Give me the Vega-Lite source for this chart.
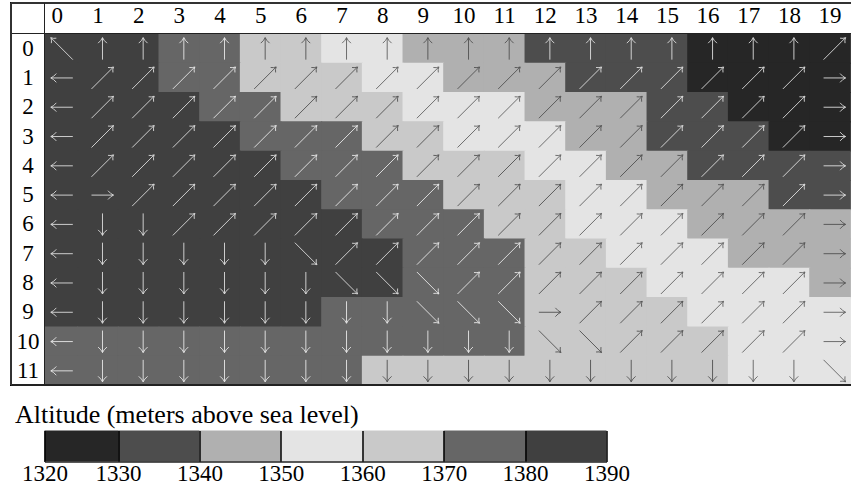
{"$schema":"https://vega.github.io/schema/vega-lite/v6.json","padding":{"left":9.5,"top":2.5,"right":0,"bottom":0},"background":"white","spacing":16,"config":{"view":{"stroke":null},"font":"Liberation Serif"},
"datasets":{"cells":[
{"col":0,"row":0,"alt":1380,"dir":"NW"},{"col":1,"row":0,"alt":1380,"dir":"N"},{"col":2,"row":0,"alt":1380,"dir":"N"},{"col":3,"row":0,"alt":1370,"dir":"N"},{"col":4,"row":0,"alt":1370,"dir":"N"},{"col":5,"row":0,"alt":1360,"dir":"N"},{"col":6,"row":0,"alt":1360,"dir":"N"},{"col":7,"row":0,"alt":1350,"dir":"N"},{"col":8,"row":0,"alt":1350,"dir":"N"},{"col":9,"row":0,"alt":1340,"dir":"N"},{"col":10,"row":0,"alt":1340,"dir":"N"},{"col":11,"row":0,"alt":1340,"dir":"N"},{"col":12,"row":0,"alt":1330,"dir":"N"},{"col":13,"row":0,"alt":1330,"dir":"N"},{"col":14,"row":0,"alt":1330,"dir":"N"},{"col":15,"row":0,"alt":1330,"dir":"N"},{"col":16,"row":0,"alt":1320,"dir":"N"},{"col":17,"row":0,"alt":1320,"dir":"N"},{"col":18,"row":0,"alt":1320,"dir":"N"},{"col":19,"row":0,"alt":1320,"dir":"NE"},
{"col":0,"row":1,"alt":1380,"dir":"W"},{"col":1,"row":1,"alt":1380,"dir":"NE"},{"col":2,"row":1,"alt":1380,"dir":"NE"},{"col":3,"row":1,"alt":1370,"dir":"NE"},{"col":4,"row":1,"alt":1370,"dir":"NE"},{"col":5,"row":1,"alt":1360,"dir":"NE"},{"col":6,"row":1,"alt":1360,"dir":"NE"},{"col":7,"row":1,"alt":1360,"dir":"NE"},{"col":8,"row":1,"alt":1350,"dir":"NE"},{"col":9,"row":1,"alt":1350,"dir":"NE"},{"col":10,"row":1,"alt":1340,"dir":"NE"},{"col":11,"row":1,"alt":1340,"dir":"NE"},{"col":12,"row":1,"alt":1340,"dir":"NE"},{"col":13,"row":1,"alt":1330,"dir":"NE"},{"col":14,"row":1,"alt":1330,"dir":"NE"},{"col":15,"row":1,"alt":1330,"dir":"NE"},{"col":16,"row":1,"alt":1320,"dir":"NE"},{"col":17,"row":1,"alt":1320,"dir":"NE"},{"col":18,"row":1,"alt":1320,"dir":"NE"},{"col":19,"row":1,"alt":1320,"dir":"E"},
{"col":0,"row":2,"alt":1380,"dir":"W"},{"col":1,"row":2,"alt":1380,"dir":"NE"},{"col":2,"row":2,"alt":1380,"dir":"NE"},{"col":3,"row":2,"alt":1380,"dir":"NE"},{"col":4,"row":2,"alt":1370,"dir":"NE"},{"col":5,"row":2,"alt":1370,"dir":"NE"},{"col":6,"row":2,"alt":1360,"dir":"NE"},{"col":7,"row":2,"alt":1360,"dir":"NE"},{"col":8,"row":2,"alt":1360,"dir":"NE"},{"col":9,"row":2,"alt":1350,"dir":"NE"},{"col":10,"row":2,"alt":1350,"dir":"NE"},{"col":11,"row":2,"alt":1350,"dir":"NE"},{"col":12,"row":2,"alt":1340,"dir":"NE"},{"col":13,"row":2,"alt":1340,"dir":"NE"},{"col":14,"row":2,"alt":1340,"dir":"NE"},{"col":15,"row":2,"alt":1330,"dir":"NE"},{"col":16,"row":2,"alt":1330,"dir":"NE"},{"col":17,"row":2,"alt":1320,"dir":"NE"},{"col":18,"row":2,"alt":1320,"dir":"NE"},{"col":19,"row":2,"alt":1320,"dir":"E"},
{"col":0,"row":3,"alt":1380,"dir":"W"},{"col":1,"row":3,"alt":1380,"dir":"NE"},{"col":2,"row":3,"alt":1380,"dir":"NE"},{"col":3,"row":3,"alt":1380,"dir":"NE"},{"col":4,"row":3,"alt":1380,"dir":"NE"},{"col":5,"row":3,"alt":1370,"dir":"NE"},{"col":6,"row":3,"alt":1370,"dir":"NE"},{"col":7,"row":3,"alt":1370,"dir":"NE"},{"col":8,"row":3,"alt":1360,"dir":"NE"},{"col":9,"row":3,"alt":1360,"dir":"NE"},{"col":10,"row":3,"alt":1350,"dir":"NE"},{"col":11,"row":3,"alt":1350,"dir":"NE"},{"col":12,"row":3,"alt":1350,"dir":"NE"},{"col":13,"row":3,"alt":1340,"dir":"NE"},{"col":14,"row":3,"alt":1340,"dir":"NE"},{"col":15,"row":3,"alt":1330,"dir":"NE"},{"col":16,"row":3,"alt":1330,"dir":"NE"},{"col":17,"row":3,"alt":1330,"dir":"NE"},{"col":18,"row":3,"alt":1320,"dir":"NE"},{"col":19,"row":3,"alt":1320,"dir":"E"},
{"col":0,"row":4,"alt":1380,"dir":"W"},{"col":1,"row":4,"alt":1380,"dir":"NE"},{"col":2,"row":4,"alt":1380,"dir":"NE"},{"col":3,"row":4,"alt":1380,"dir":"NE"},{"col":4,"row":4,"alt":1380,"dir":"NE"},{"col":5,"row":4,"alt":1380,"dir":"NE"},{"col":6,"row":4,"alt":1370,"dir":"NE"},{"col":7,"row":4,"alt":1370,"dir":"NE"},{"col":8,"row":4,"alt":1370,"dir":"NE"},{"col":9,"row":4,"alt":1360,"dir":"NE"},{"col":10,"row":4,"alt":1360,"dir":"NE"},{"col":11,"row":4,"alt":1360,"dir":"NE"},{"col":12,"row":4,"alt":1350,"dir":"NE"},{"col":13,"row":4,"alt":1350,"dir":"NE"},{"col":14,"row":4,"alt":1340,"dir":"NE"},{"col":15,"row":4,"alt":1340,"dir":"NE"},{"col":16,"row":4,"alt":1330,"dir":"NE"},{"col":17,"row":4,"alt":1330,"dir":"NE"},{"col":18,"row":4,"alt":1330,"dir":"NE"},{"col":19,"row":4,"alt":1330,"dir":"E"},
{"col":0,"row":5,"alt":1380,"dir":"W"},{"col":1,"row":5,"alt":1380,"dir":"E"},{"col":2,"row":5,"alt":1380,"dir":"NE"},{"col":3,"row":5,"alt":1380,"dir":"NE"},{"col":4,"row":5,"alt":1380,"dir":"NE"},{"col":5,"row":5,"alt":1380,"dir":"NE"},{"col":6,"row":5,"alt":1380,"dir":"NE"},{"col":7,"row":5,"alt":1370,"dir":"NE"},{"col":8,"row":5,"alt":1370,"dir":"NE"},{"col":9,"row":5,"alt":1370,"dir":"NE"},{"col":10,"row":5,"alt":1360,"dir":"NE"},{"col":11,"row":5,"alt":1360,"dir":"NE"},{"col":12,"row":5,"alt":1360,"dir":"NE"},{"col":13,"row":5,"alt":1350,"dir":"NE"},{"col":14,"row":5,"alt":1350,"dir":"NE"},{"col":15,"row":5,"alt":1340,"dir":"NE"},{"col":16,"row":5,"alt":1340,"dir":"NE"},{"col":17,"row":5,"alt":1340,"dir":"NE"},{"col":18,"row":5,"alt":1330,"dir":"NE"},{"col":19,"row":5,"alt":1330,"dir":"E"},
{"col":0,"row":6,"alt":1380,"dir":"W"},{"col":1,"row":6,"alt":1380,"dir":"S"},{"col":2,"row":6,"alt":1380,"dir":"S"},{"col":3,"row":6,"alt":1380,"dir":"NE"},{"col":4,"row":6,"alt":1380,"dir":"NE"},{"col":5,"row":6,"alt":1380,"dir":"NE"},{"col":6,"row":6,"alt":1380,"dir":"NE"},{"col":7,"row":6,"alt":1380,"dir":"NE"},{"col":8,"row":6,"alt":1370,"dir":"NE"},{"col":9,"row":6,"alt":1370,"dir":"NE"},{"col":10,"row":6,"alt":1370,"dir":"NE"},{"col":11,"row":6,"alt":1360,"dir":"NE"},{"col":12,"row":6,"alt":1360,"dir":"NE"},{"col":13,"row":6,"alt":1350,"dir":"NE"},{"col":14,"row":6,"alt":1350,"dir":"NE"},{"col":15,"row":6,"alt":1350,"dir":"NE"},{"col":16,"row":6,"alt":1340,"dir":"NE"},{"col":17,"row":6,"alt":1340,"dir":"NE"},{"col":18,"row":6,"alt":1340,"dir":"NE"},{"col":19,"row":6,"alt":1340,"dir":"E"},
{"col":0,"row":7,"alt":1380,"dir":"W"},{"col":1,"row":7,"alt":1380,"dir":"S"},{"col":2,"row":7,"alt":1380,"dir":"S"},{"col":3,"row":7,"alt":1380,"dir":"S"},{"col":4,"row":7,"alt":1380,"dir":"S"},{"col":5,"row":7,"alt":1380,"dir":"S"},{"col":6,"row":7,"alt":1380,"dir":"SE"},{"col":7,"row":7,"alt":1380,"dir":"NE"},{"col":8,"row":7,"alt":1380,"dir":"NE"},{"col":9,"row":7,"alt":1370,"dir":"NE"},{"col":10,"row":7,"alt":1370,"dir":"NE"},{"col":11,"row":7,"alt":1370,"dir":"NE"},{"col":12,"row":7,"alt":1360,"dir":"NE"},{"col":13,"row":7,"alt":1360,"dir":"NE"},{"col":14,"row":7,"alt":1350,"dir":"NE"},{"col":15,"row":7,"alt":1350,"dir":"NE"},{"col":16,"row":7,"alt":1350,"dir":"NE"},{"col":17,"row":7,"alt":1340,"dir":"NE"},{"col":18,"row":7,"alt":1340,"dir":"NE"},{"col":19,"row":7,"alt":1340,"dir":"E"},
{"col":0,"row":8,"alt":1380,"dir":"W"},{"col":1,"row":8,"alt":1380,"dir":"S"},{"col":2,"row":8,"alt":1380,"dir":"S"},{"col":3,"row":8,"alt":1380,"dir":"S"},{"col":4,"row":8,"alt":1380,"dir":"S"},{"col":5,"row":8,"alt":1380,"dir":"S"},{"col":6,"row":8,"alt":1380,"dir":"S"},{"col":7,"row":8,"alt":1380,"dir":"SE"},{"col":8,"row":8,"alt":1380,"dir":"SE"},{"col":9,"row":8,"alt":1370,"dir":"SE"},{"col":10,"row":8,"alt":1370,"dir":"NE"},{"col":11,"row":8,"alt":1370,"dir":"NE"},{"col":12,"row":8,"alt":1360,"dir":"NE"},{"col":13,"row":8,"alt":1360,"dir":"NE"},{"col":14,"row":8,"alt":1360,"dir":"NE"},{"col":15,"row":8,"alt":1350,"dir":"NE"},{"col":16,"row":8,"alt":1350,"dir":"NE"},{"col":17,"row":8,"alt":1350,"dir":"NE"},{"col":18,"row":8,"alt":1350,"dir":"NE"},{"col":19,"row":8,"alt":1340,"dir":"E"},
{"col":0,"row":9,"alt":1380,"dir":"W"},{"col":1,"row":9,"alt":1380,"dir":"S"},{"col":2,"row":9,"alt":1380,"dir":"S"},{"col":3,"row":9,"alt":1380,"dir":"S"},{"col":4,"row":9,"alt":1380,"dir":"S"},{"col":5,"row":9,"alt":1380,"dir":"S"},{"col":6,"row":9,"alt":1380,"dir":"S"},{"col":7,"row":9,"alt":1370,"dir":"S"},{"col":8,"row":9,"alt":1370,"dir":"S"},{"col":9,"row":9,"alt":1370,"dir":"SE"},{"col":10,"row":9,"alt":1370,"dir":"SE"},{"col":11,"row":9,"alt":1370,"dir":"SE"},{"col":12,"row":9,"alt":1360,"dir":"E"},{"col":13,"row":9,"alt":1360,"dir":"NE"},{"col":14,"row":9,"alt":1360,"dir":"NE"},{"col":15,"row":9,"alt":1360,"dir":"NE"},{"col":16,"row":9,"alt":1350,"dir":"NE"},{"col":17,"row":9,"alt":1350,"dir":"NE"},{"col":18,"row":9,"alt":1350,"dir":"NE"},{"col":19,"row":9,"alt":1350,"dir":"E"},
{"col":0,"row":10,"alt":1370,"dir":"W"},{"col":1,"row":10,"alt":1370,"dir":"S"},{"col":2,"row":10,"alt":1370,"dir":"S"},{"col":3,"row":10,"alt":1370,"dir":"S"},{"col":4,"row":10,"alt":1370,"dir":"S"},{"col":5,"row":10,"alt":1370,"dir":"S"},{"col":6,"row":10,"alt":1370,"dir":"S"},{"col":7,"row":10,"alt":1370,"dir":"S"},{"col":8,"row":10,"alt":1370,"dir":"S"},{"col":9,"row":10,"alt":1370,"dir":"S"},{"col":10,"row":10,"alt":1370,"dir":"S"},{"col":11,"row":10,"alt":1370,"dir":"S"},{"col":12,"row":10,"alt":1360,"dir":"SE"},{"col":13,"row":10,"alt":1360,"dir":"SE"},{"col":14,"row":10,"alt":1360,"dir":"NE"},{"col":15,"row":10,"alt":1360,"dir":"NE"},{"col":16,"row":10,"alt":1360,"dir":"NE"},{"col":17,"row":10,"alt":1350,"dir":"NE"},{"col":18,"row":10,"alt":1350,"dir":"NE"},{"col":19,"row":10,"alt":1350,"dir":"E"},
{"col":0,"row":11,"alt":1370,"dir":"W"},{"col":1,"row":11,"alt":1370,"dir":"S"},{"col":2,"row":11,"alt":1370,"dir":"S"},{"col":3,"row":11,"alt":1370,"dir":"S"},{"col":4,"row":11,"alt":1370,"dir":"S"},{"col":5,"row":11,"alt":1370,"dir":"S"},{"col":6,"row":11,"alt":1370,"dir":"S"},{"col":7,"row":11,"alt":1370,"dir":"S"},{"col":8,"row":11,"alt":1360,"dir":"S"},{"col":9,"row":11,"alt":1360,"dir":"S"},{"col":10,"row":11,"alt":1360,"dir":"S"},{"col":11,"row":11,"alt":1360,"dir":"S"},{"col":12,"row":11,"alt":1360,"dir":"S"},{"col":13,"row":11,"alt":1360,"dir":"S"},{"col":14,"row":11,"alt":1360,"dir":"S"},{"col":15,"row":11,"alt":1360,"dir":"S"},{"col":16,"row":11,"alt":1360,"dir":"S"},{"col":17,"row":11,"alt":1350,"dir":"S"},{"col":18,"row":11,"alt":1350,"dir":"S"},{"col":19,"row":11,"alt":1350,"dir":"SE"}
],
"bands":[{"alt":1320,"hi":1330},{"alt":1330,"hi":1340},{"alt":1340,"hi":1350},{"alt":1350,"hi":1360},{"alt":1360,"hi":1370},{"alt":1370,"hi":1380},{"alt":1380,"hi":1390}]},
"vconcat":[
{"width":806.5,"height":351.5,"data":{"name":"cells"},
"encoding":{
"x":{"field":"col","type":"quantitative","scale":{"domain":[-0.303,19.527],"nice":false,"zero":false},"axis":{"orient":"top","values":[0,1,2,3,4,5,6,7,8,9,10,11,12,13,14,15,16,17,18,19],"format":"d","title":null,"grid":false,"ticks":false,"domain":false,"labelFontSize":23,"labelFont":"Liberation Serif","labelColor":"#000","labelPadding":6,"labelFlush":false,"labelBound":false,"labelOverlap":false,"labelAngle":0,"encode":{"labels":{"update":{"dx":{"signal":"datum.value===0?3:0"}}}}}},
"y":{"field":"row","type":"quantitative","scale":{"domain":[-0.5,11.5],"reverse":true,"nice":false,"zero":false},"axis":{"values":[0,1,2,3,4,5,6,7,8,9,10,11],"format":"d","title":null,"grid":false,"ticks":false,"domain":false,"labelFontSize":23,"labelFont":"Liberation Serif","labelColor":"#000","labelAlign":"center","labelBaseline":"middle","labelPadding":17,"labelBound":false,"labelFlush":false,"labelOverlap":false}}},
"resolve":{"scale":{"stroke":"independent"}},
"layer":[
{"mark":{"type":"rect","width":41.67,"height":30.3,"xOffset":0.5,"yOffset":0.5,"opacity":1,"clip":true},"encoding":{"fill":{"field":"alt","type":"ordinal","scale":{"domain":[1320,1330,1340,1350,1360,1370,1380],"range":["#262626","#4d4d4d","#b0b0b0","#e4e4e4","#c9c9c9","#666666","#404040"]},"legend":null}}},
{"mark":{"type":"point","filled":false,"size":484,"strokeWidth":0.9,"opacity":1,"xOffset":5,"yOffset":0.5,"clip":false},"encoding":{
"shape":{"field":"dir","type":"nominal","scale":{"domain":["N","NE","E","SE","S","W","NW"],"range":["M0 1L0 -1M-0.4 -0.5Q-0.1 -0.75 0 -1Q0.1 -0.75 0.4 -0.5","M-1 1L1 -1M0.5 -0.95Q0.78 -0.9 1 -1Q0.9 -0.78 0.95 -0.5","M-1 0L1 0M0.5 -0.4Q0.75 -0.1 1 0Q0.75 0.1 0.5 0.4","M-1 -1L1 1M0.95 0.5Q0.9 0.78 1 1Q0.78 0.9 0.5 0.95","M0 -1L0 1M-0.4 0.5Q-0.1 0.75 0 1Q0.1 0.75 0.4 0.5","M1 0L-1 0M-0.5 -0.4Q-0.75 -0.1 -1 0Q-0.75 0.1 -0.5 0.4","M1 1L-1 -1M-0.95 -0.5Q-0.9 -0.78 -1 -1Q-0.78 -0.9 -0.5 -0.95"]},"legend":null},
"stroke":{"field":"alt","type":"ordinal","scale":{"domain":[1320,1330,1340,1350,1360,1370,1380],"range":["#dddddd","#e0e0e0","#505050","#606060","#505050","#e8e8e8","#dddddd"]},"legend":null}}},
{"mark":{"type":"rule","color":"#333333","strokeWidth":1,"clip":false},"encoding":{"x":{"datum":-1.127},"x2":{"datum":19.527},"y":{"datum":-1.541}}},
{"mark":{"type":"rule","color":"#222222","strokeWidth":1,"clip":false},"encoding":{"x":{"datum":-1.127},"x2":{"datum":19.527},"y":{"datum":-0.5}}},
{"mark":{"type":"rule","color":"#222222","strokeWidth":1,"clip":false},"encoding":{"x":{"datum":-1.127},"x2":{"datum":19.527},"y":{"datum":11.5}}},
{"mark":{"type":"rule","color":"#333333","strokeWidth":1,"clip":false},"encoding":{"y":{"datum":-1.541},"y2":{"datum":11.5},"x":{"datum":-1.127}}},
{"mark":{"type":"rule","color":"#222222","strokeWidth":1,"clip":false},"encoding":{"y":{"datum":-1.541},"y2":{"datum":11.5},"x":{"datum":-0.303}}}
]},
{"width":562,"height":31,"data":{"name":"bands"},
"title":{"text":"Altitude (meters above sea level)","anchor":"start","frame":"group","dx":-29.5,"font":"Liberation Serif","fontSize":26,"fontWeight":"normal","color":"#000","offset":3},
"mark":{"type":"rect"},
"encoding":{
"x":{"field":"alt","type":"quantitative","scale":{"domain":[1320,1330,1390],"range":[0,73.5,562],"nice":false,"zero":false},"axis":{"values":[1320,1330,1340,1350,1360,1370,1380,1390],"format":"d","title":null,"grid":true,"gridColor":"#000","gridWidth":1.5,"gridOpacity":1,"ticks":false,"domain":true,"domainColor":"#222","domainWidth":1.5,"zindex":1,"labelFontSize":23,"labelFont":"Liberation Serif","labelColor":"#000","labelPadding":1,"labelFlush":false,"labelBound":false,"labelOverlap":false,"labelAngle":0}},
"x2":{"field":"hi"},
"fill":{"field":"alt","type":"ordinal","scale":{"domain":[1320,1330,1340,1350,1360,1370,1380],"range":["#262626","#4d4d4d","#b0b0b0","#e4e4e4","#c9c9c9","#666666","#404040"]},"legend":null}}}
]}
